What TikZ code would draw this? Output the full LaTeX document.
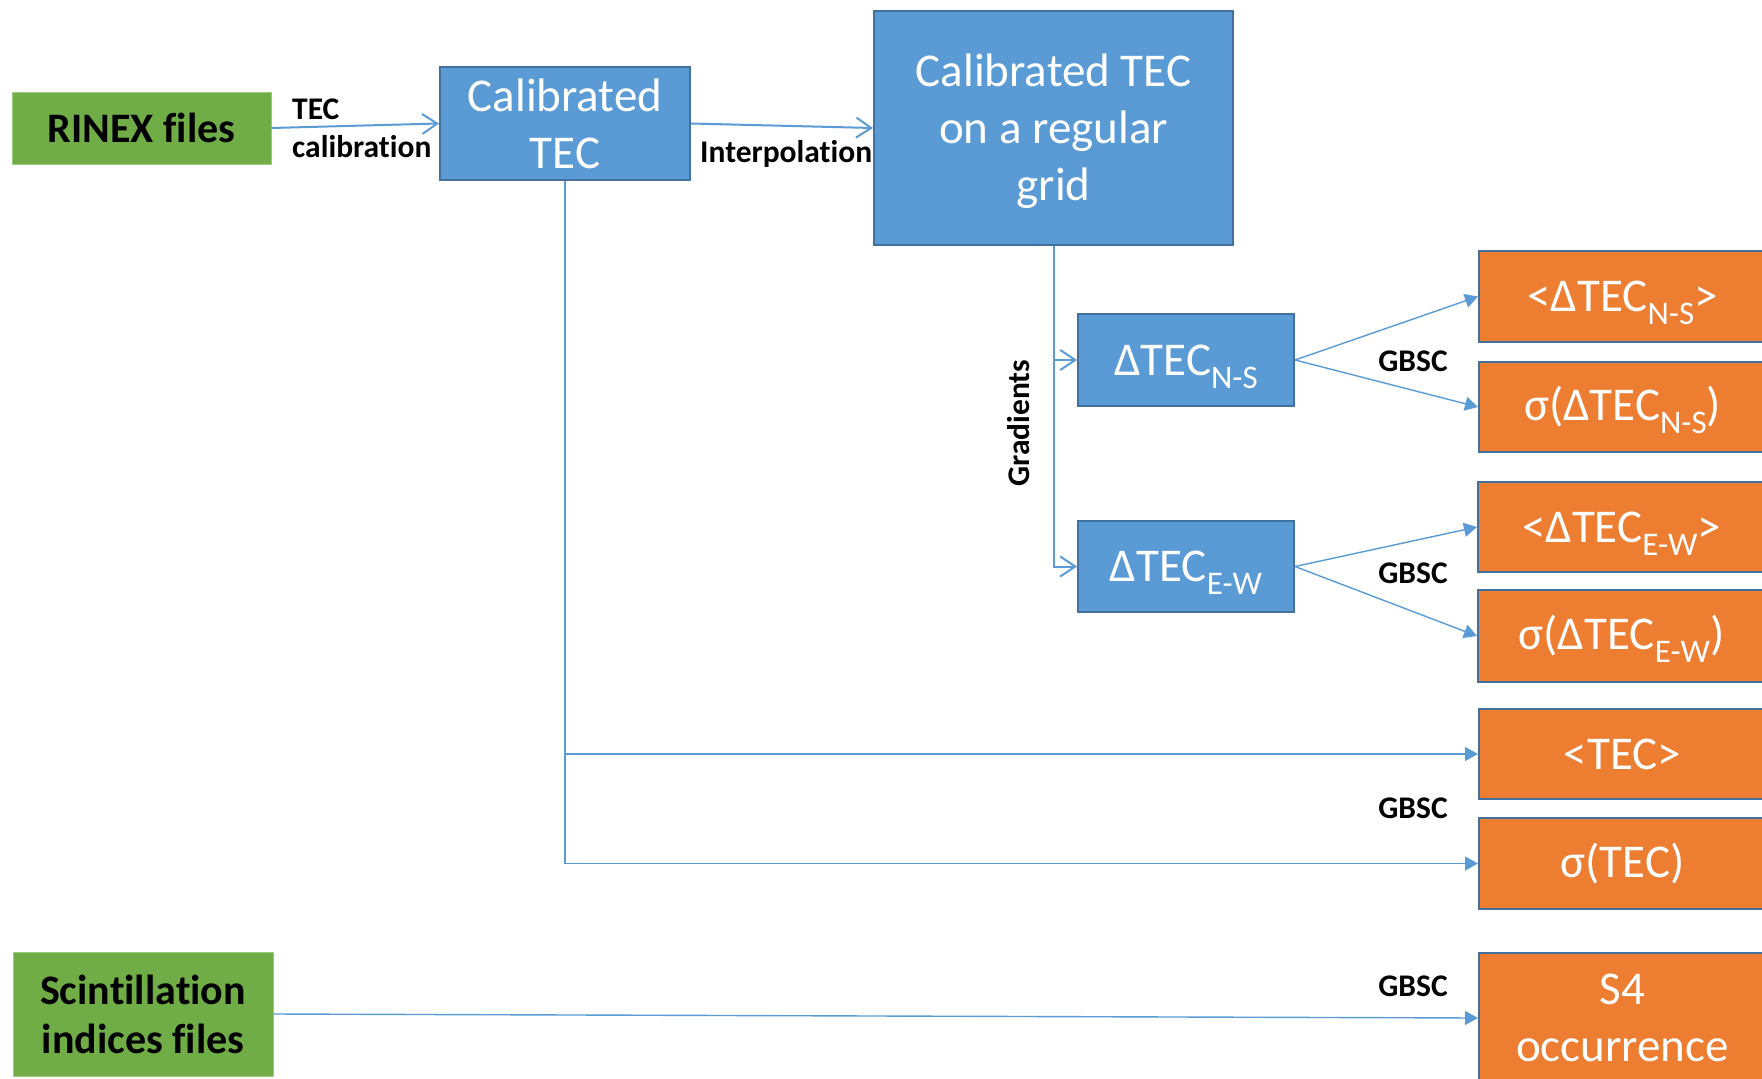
\documentclass[tikz,border=0pt]{standalone}
\usepackage{fontspec}
\setmainfont{Carlito}[Ligatures=NoCommon]
\usetikzlibrary{arrows.meta}

\definecolor{boxblue}{HTML}{5B9BD5}
\definecolor{edgeblue}{HTML}{41719C}
\definecolor{boxgreen}{HTML}{70AD47}
\definecolor{edgegreen}{HTML}{9CCB7E}
\definecolor{boxorange}{HTML}{ED7D31}

% lowered, smaller index such as N-S or E-W
\newcommand{\lowsub}[1]{\smash{\raisebox{-13pt}{\fontsize{33}{33}\selectfont #1}}}

\tikzset{
  bluebox/.style={draw=edgeblue, line width=2pt, fill=boxblue, text=white,
    inner sep=0pt, font=\fontsize{47}{57}\selectfont, align=center},
  orangebox/.style={draw=edgeblue, line width=2pt, fill=boxorange, text=white,
    inner sep=0pt, minimum width=287pt, font=\fontsize{47}{57}\selectfont, align=center},
  greenbox/.style={draw=edgegreen, line width=1pt, fill=boxgreen, text=black,
    inner sep=0pt, align=center, font=\bfseries\fontsize{42}{49}\selectfont},
  lbl/.style={font=\bfseries\fontsize{31.5}{38}\selectfont, inner sep=0pt, text=black},
  flowline/.style={draw=boxblue, line width=1.4pt},
  openarrow/.style={flowline, line width=2pt, -{Straight Barb[length=15pt,width=20pt]}},
  fillarrow/.style={flowline, -{Triangle[length=13pt,width=14pt]}},
}

\begin{document}
\begin{tikzpicture}[x=1pt,y=-1pt]
\useasboundingbox (0,0) rectangle (1762,1079);
\clip (0,0) rectangle (1762,1079);
\fill[white] (0,0) rectangle (1762,1079);

% input files
\node[greenbox, minimum width=259pt, minimum height=72pt] (rinex) at (141.5,128) {RINEX files};
\node[greenbox, minimum width=260pt, minimum height=124pt] (scint) at (143,1014) {Scintillation\\indices files};

% processing steps
\node[bluebox, minimum width=250pt, minimum height=113pt] (caltec) at (565,123.5) {Calibrated\\TEC};
\node[bluebox, minimum width=359pt, minimum height=234pt] (grid) at (1053.5,128) {\rule{0pt}{40pt}Calibrated TEC\\on a regular\\grid};
\node[bluebox, minimum width=216pt, minimum height=92pt] (dns) at (1186,360) {ΔTEC\lowsub{N-S}};
\node[bluebox, minimum width=216pt, minimum height=91pt] (dew) at (1186,566.5) {ΔTEC\lowsub{E-W}};

% products
\node[orangebox, minimum height=91pt] (nsavg) at (1622.5,296.5) {<ΔTEC\lowsub{N-S}>};
\node[orangebox, minimum height=90pt] (nssig) at (1622.5,407) {σ(ΔTEC\lowsub{N-S})};
\node[orangebox, minimum height=90pt] (ewavg) at (1621.5,527) {<ΔTEC\lowsub{E-W}>};
\node[orangebox, minimum height=92pt] (ewsig) at (1621.5,636) {σ(ΔTEC\lowsub{E-W})};
\node[orangebox, minimum height=90pt] (tecavg) at (1622.5,754) {<TEC>};
\node[orangebox, minimum height=91pt] (tecsig) at (1622.5,863.5) {σ(TEC)};
\node[orangebox, minimum height=130pt] (s4) at (1622.5,1018) {S4\\occurrence};

% connectors
\draw[openarrow] (rinex.east) -- (caltec.west);
\draw[openarrow] (caltec.east) -- (grid.west);
\draw[openarrow] (grid.south) |- (dns.west);
\draw[openarrow] (grid.south) |- (dew.west);
\draw[fillarrow] (dns.east) -- (nsavg.west);
\draw[fillarrow] (dns.east) -- (nssig.west);
\draw[fillarrow] (dew.east) -- (ewavg.west);
\draw[fillarrow] (dew.east) -- (ewsig.west);
\draw[fillarrow] (caltec.south) |- (tecavg.west);
\draw[fillarrow] (caltec.south) |- (tecsig.west);
\draw[fillarrow] (scint.east) -- (s4.west);

% connector labels
\node[lbl, anchor=north west, align=left] (calib) at (292,99) {TEC\\calibration};
\node[lbl, anchor=base west] (interp) at (700,162) {Interpolation};
\node[lbl, rotate=90] (grad) at (1019,423) {Gradients};
\node[lbl] (gbscns) at (1413,361) {GBSC};
\node[lbl] (gbscew) at (1413,573) {GBSC};
\node[lbl] (gbsctec) at (1413,808) {GBSC};
\node[lbl] (gbscs4) at (1413,986) {GBSC};
\end{tikzpicture}
\end{document}
